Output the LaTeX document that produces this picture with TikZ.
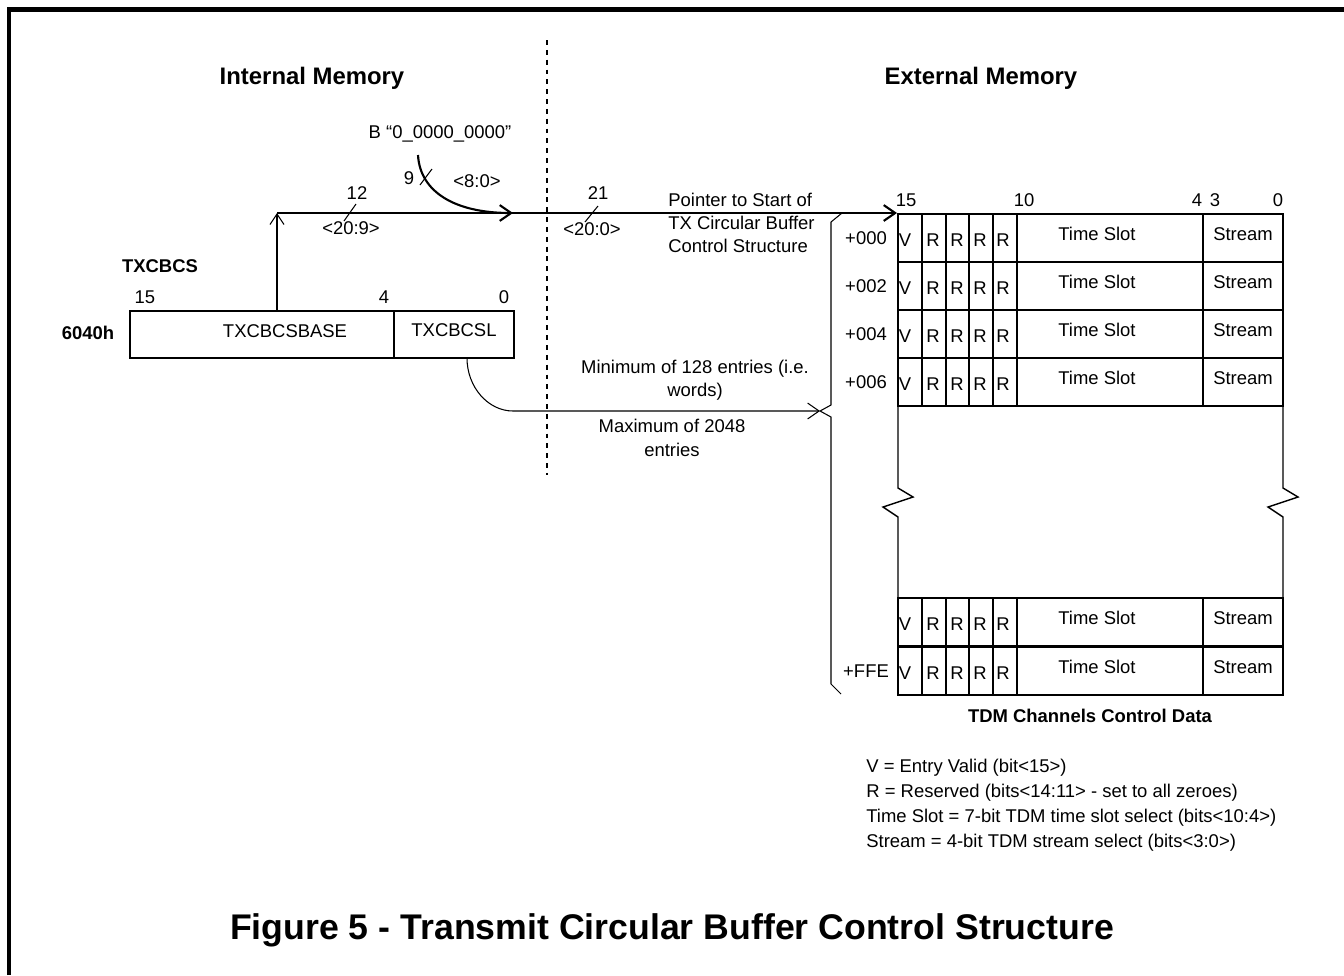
\documentclass[tikz,border=0pt]{standalone}
\usepackage{fontspec}
\setmainfont{Liberation Sans}
\usetikzlibrary{arrows.meta}

\tikzset{
  txt/.style={font=\fontsize{10.5}{13.3}\selectfont, inner sep=0pt},
  bold/.style={font=\fontsize{10.5}{13.3}\selectfont\bfseries, inner sep=0pt},
  head/.style={font=\fontsize{13.6}{16}\selectfont\bfseries, inner sep=0pt},
  bus/.style={line width=1.2pt},
  wire/.style={line width=0.6pt},
  cell/.style={line width=0.8pt},
  barb/.style={-{Straight Barb[length=6.5pt,width=9pt]}},
  thinbarb/.style={-{Straight Barb[length=6pt,width=8pt]}},
}

\begin{document}
\begin{tikzpicture}[x=0.02cm, y=-0.02cm]
	\useasboundingbox (0,0) rectangle (1344,975);
	\draw[line width=0.09cm] (9,975) -- (9,9.5) -- (1344,9.5);

	\node[head] (intmem) at (312,78) {Internal Memory};
	\node[head] (extmem) at (981,78) {External Memory};
	\draw[wire, dash pattern=on 2.8pt off 2.8pt] (547,40) -- (547,475);

	% register
	\node[bold] (regname) at (160,266) {TXCBCS};
	\node[bold] (regaddr) at (88,333) {6040h};
	\draw[cell] (130,311) rectangle (514,358);
	\draw[cell] (394,311) -- (394,358);
	\node[txt] (b15) at (145,297) {15};
	\node[txt] (b4) at (384,297) {4};
	\node[txt] (b0) at (504,297) {0};
	\node[txt] (base) at (285,331) {TXCBCSBASE};
	\node[txt] (len) at (454,330) {TXCBCSL};

	\coordinate (basetap) at (277,311);
	\coordinate (bus) at (277,213);
	\coordinate (merge) at (513,213);
	\coordinate (tabtop) at (897,213);
	\coordinate (bstart) at (418,155);
	\coordinate (lentap) at (467,358);
	\coordinate (bracetip) at (820,411);

	\draw[wire, thinbarb] (basetap) -- (bus);
	\draw[bus, barb] (bus) -- (tabtop);
	\draw[bus, barb] (bstart) .. controls (420,192) and (455,213) .. (merge);
	\draw[wire, barb] (lentap) .. controls (467,387) and (488,411) .. (513,411) -- (bracetip);

	\node[txt] (bzero) at (440,134) {B “0\_0000\_0000”};
	\draw[wire] (420,185) -- (432,169);
	\node[txt] (w9) at (409,178) {9};
	\node[txt] (r80) at (477,181) {<8:0>};
	\draw[wire] (344,221) -- (356,204);
	\node[txt] (w12) at (357,193) {12};
	\node[txt] (r209) at (351,228) {<20:9>};
	\draw[wire] (585,222) -- (598,206);
	\node[txt] (w21) at (598,193) {21};
	\node[txt] (r200) at (592,229) {<20:0>};

	\node[txt, align=left, anchor=west] (ptr) at (668,223) {Pointer to Start of\\TX Circular Buffer\\Control Structure};
	\node[txt, align=center] (minent) at (695,380) {Minimum of 128 entries (i.e.\\words)};
	\node[txt, align=center] (maxent) at (672,438) {Maximum of 2048\\entries};

	\draw[wire] (842,213) -- (831,222) -- (831,405) -- (bracetip) -- (831,417) -- (831,684) -- (841,694);

	% table
	\node[txt] (t15) at (906,200) {15};
	\node[txt] (t10) at (1024,200) {10};
	\node[txt] (t4) at (1197,200) {4};
	\node[txt] (t3) at (1215,200) {3};
	\node[txt] (t0) at (1278,200) {0};
	\foreach \y/\off [count=\r] in {214/+000,262/+002,310/+004,358/+006,598/,647/+FFE}{
		\draw[cell] (898,\y) rectangle (1283,\y+48);
		\foreach \x in {922,946,969,993,1017,1203} \draw[cell] (\x,\y) -- (\x,\y+48);
		\node[txt] (v\r) at (905,\y+26) {V};
		\foreach \x [count=\c] in {933,957,980,1003} \node[txt] (r\r\c) at (\x,\y+26) {R};
		\node[txt] (ts\r) at (1097,\y+20) {Time Slot};
		\node[txt] (st\r) at (1243,\y+20) {Stream};
		\node[txt] (off\r) at (866,\y+24) {\off};
	}
	\draw[cell] (898,406) -- (898,488) -- (913,497) -- (883,507) -- (898,517) -- (898,598);
	\draw[cell] (1283,406) -- (1283,488) -- (1298,497) -- (1268,507) -- (1283,517) -- (1283,598);
	\node[bold] (tabname) at (1090,716) {TDM Channels Control Data};

	\node[txt, anchor=west] (keyv) at (866,768) {V = Entry Valid (bit<15>)};
	\node[txt, anchor=west] (keyr) at (866,793) {R = Reserved (bits<14:11> - set to all zeroes)};
	\node[txt, anchor=west] (keyts) at (866,818) {Time Slot = 7-bit TDM time slot select (bits<10:4>)};
	\node[txt, anchor=west] (keyst) at (866,843) {Stream = 4-bit TDM stream select (bits<3:0>)};

	\node[font=\fontsize{20.3}{24}\selectfont\bfseries, inner sep=0pt] (caption) at (672,930) {Figure 5 - Transmit Circular Buffer Control Structure};
\end{tikzpicture}
\end{document}
